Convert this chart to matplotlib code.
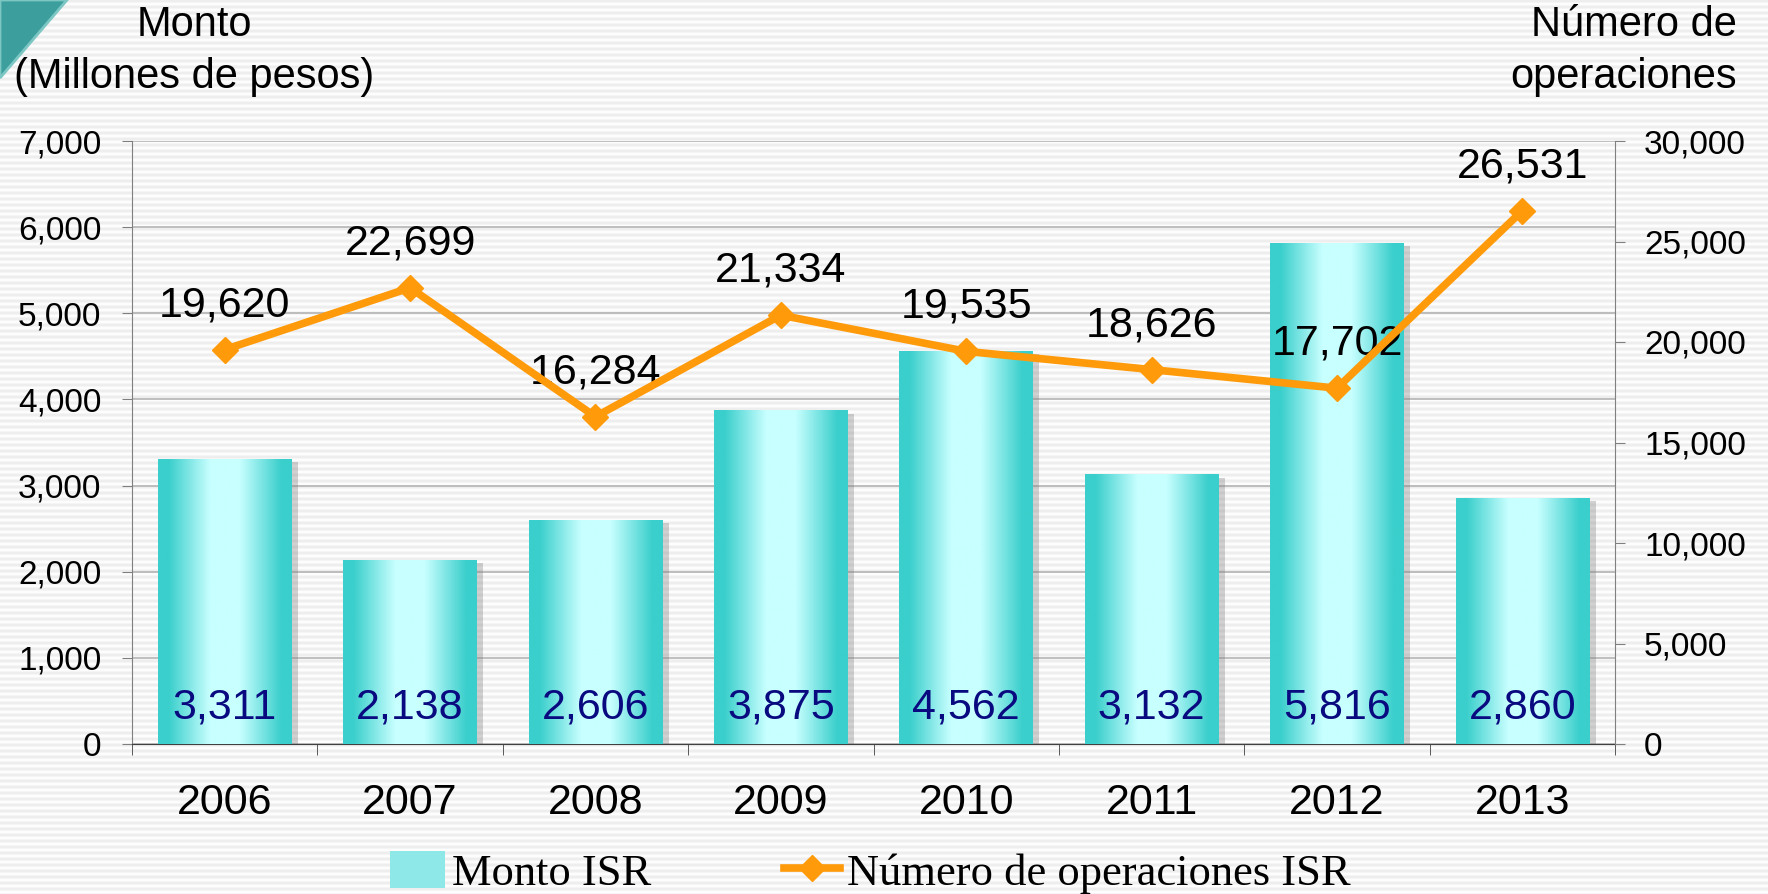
import numpy as np
import matplotlib.pyplot as plt
from matplotlib.patches import Polygon
from matplotlib.lines import Line2D
from matplotlib.patches import Patch

years = ['2006', '2007', '2008', '2009', '2010', '2011', '2012', '2013']
monto = [3311, 2138, 2606, 3875, 4562, 3132, 5816, 2860]
operaciones = [19620, 22699, 16284, 21334, 19535, 18626, 17702, 26531]

plt.rcParams['font.family'] = ['Liberation Sans', 'DejaVu Sans']

fig = plt.figure(figsize=(17.68, 8.94), dpi=100)

# striped background
bg = fig.add_axes([0, 0, 1, 1], zorder=-10)
rows = np.tile([0.93, 0.93, 0.96, 0.99, 0.99, 0.96], 160)[:894]
bg.imshow(np.repeat(rows[:, None], 2, axis=1), cmap='gray', vmin=0, vmax=1,
          aspect='auto', extent=[0, 1, 0, 1], interpolation='nearest')
bg.set_xlim(0, 1)
bg.set_ylim(0, 1)
bg.axis('off')
tri = Polygon([[0, 1], [67 / 1768, 1], [0, 1 - 78 / 894]], closed=True, transform=fig.transFigure,
              facecolor='#3c9e9d', edgecolor='#7cc7c4', linewidth=2, zorder=5)
fig.patches.append(tri)

ax = fig.add_axes([132 / 1768, 150 / 894, (1615 - 132) / 1768, (753 - 150) / 894])
ax.patch.set_alpha(0)
x = np.arange(len(years))
w = 0.72

# gradient for bars
grad = np.linspace(-1, 1, 256)
prof = np.clip(np.abs(grad) * 1.6 - 0.35, 0, 1)[None, :]
c_edge = np.array([0x3a, 0xcf, 0xcc]) / 255
c_mid = np.array([0xc8, 0xff, 0xff]) / 255
img = c_mid[None, None, :] * (1 - prof[..., None]) + c_edge[None, None, :] * prof[..., None]

bars = ax.bar(x, monto, width=w, color='#3acfcc', zorder=3, label='Monto ISR')
for b in bars:
    # shadow
    ax.bar(b.get_x() + b.get_width() / 2 + 0.035, b.get_height(), width=w, bottom=-40,
           color='#808080', alpha=0.35, zorder=2)
    im = ax.imshow(img, extent=[b.get_x(), b.get_x() + b.get_width(), 0, b.get_height()],
                   aspect='auto', zorder=3.5)
    im.set_clip_path(b)
for xi, v in zip(x, monto):
    ax.text(xi, 420, f'{v:,}', ha='center', va='center', fontsize=31, color='#0a0a80', zorder=6)

ax.set_xlim(-0.5, len(years) - 0.5)
ax.set_ylim(0, 7000)
ax.set_yticks(range(0, 7001, 1000))
ax.set_yticklabels([f'{v:,}' for v in range(0, 7001, 1000)], fontsize=24)
ax.set_xticks(x)
ax.set_xticklabels(years, fontsize=31)
ax.set_xticks(np.arange(-0.5, len(years), 1), minor=True)
ax.tick_params(axis='x', which='major', length=0, pad=28)
ax.tick_params(axis='x', which='minor', length=8, color='#404040')
ax.tick_params(axis='y', length=7, color='#808080', pad=15)
ax.yaxis.grid(True, color='#b4b4b4', linewidth=1.2, zorder=0)
ax.set_axisbelow(True)
for s in ['top', 'right']:
    ax.spines[s].set_visible(False)
ax.spines['left'].set_color('#808080')
ax.spines['bottom'].set_color('#404040')

ax2 = ax.twinx()
ax2.plot(x, operaciones, color='#ff9a0a', linewidth=5.5, marker='D', markersize=13,
         zorder=5, label='Número de operaciones ISR')
for xi, v in zip(x, operaciones):
    ax2.annotate(f'{v:,}', (xi, v), xytext=(0, 32), textcoords='offset points',
                 ha='center', va='center', fontsize=31, color='black')
ax2.set_ylim(0, 30000)
ax2.set_yticks(range(0, 30001, 5000))
ax2.set_yticklabels([f'{v:,}' for v in range(0, 30001, 5000)], fontsize=24)
ax2.tick_params(axis='y', length=7, color='#808080', pad=14)
for s in ['top', 'left', 'bottom']:
    ax2.spines[s].set_visible(False)
ax2.spines['right'].set_color('#808080')

fig.text(194 / 1768, 1 - 25 / 894, 'Monto', fontsize=30, ha='center', va='center')
fig.text(194 / 1768, 1 - 77 / 894, '(Millones de pesos)', fontsize=30, ha='center', va='center')
fig.text(1737 / 1768, 1 - 25 / 894, 'Número de', fontsize=30, ha='right', va='center')
fig.text(1737 / 1768, 1 - 77 / 894, 'operaciones', fontsize=30, ha='right', va='center')

handles = [Patch(facecolor='#8fe8e8', edgecolor='none'),
           Line2D([0], [0], color='#ff9a0a', linewidth=5.5, marker='D', markersize=13)]
fig.legend(handles, ['Monto ISR', 'Número de operaciones ISR'], loc='center',
           bbox_to_anchor=(0.492, 0.024), ncol=2, frameon=False, columnspacing=3.0,
           handlelength=1.25, handleheight=0.9, handletextpad=0.15,
           prop={'family': 'Liberation Serif', 'size': 32})

fig.savefig('out.png', dpi=100)
